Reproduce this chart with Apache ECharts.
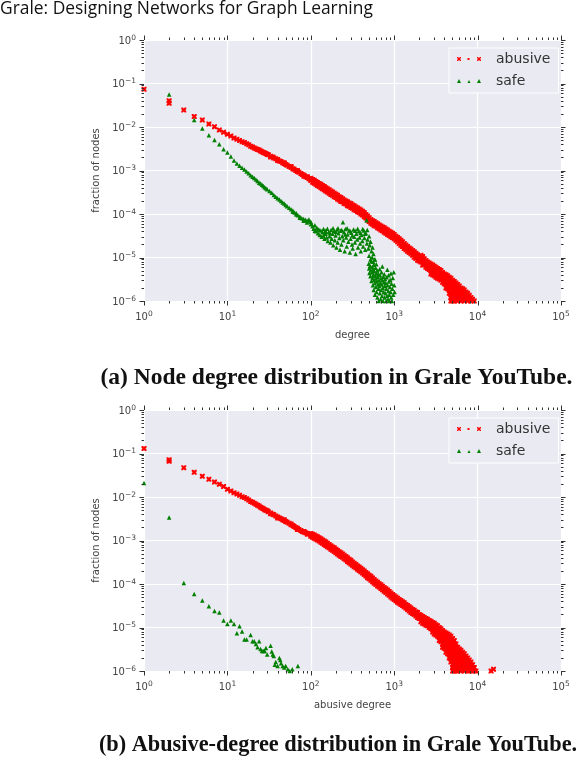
<!DOCTYPE html>
<html><head><meta charset="utf-8">
<script src="https://cdn.jsdelivr.net/npm/echarts@6/dist/echarts.min.js"></script>
<style>html,body{margin:0;padding:0;background:#fff}#c{width:578px;height:760px}</style>
</head><body><div id="c"></div>
<script>
// ---------- text ----------
const headerText = 'Grale: Designing Networks for Graph Learning';
const captions = ['(a) Node degree distribution in Grale YouTube.', '(b) Abusive-degree distribution in Grale YouTube.'];
const seriesNames = ['abusive', 'safe'];
const xAxisNames = ['degree', 'abusive degree'];
const yAxisName = 'fraction of nodes';

// ---------- axis ticks (powers of ten) ----------
const xTickExps = [0, 1, 2, 3, 4, 5];
const yTickExps = [-6, -5, -4, -3, -2, -1, 0];
const minorMultipliers = [2, 3, 4, 5, 6, 7, 8, 9];

// ---------- data rows: [degree, fraction, fraction, ...] ----------
// (a) node degree, abusive nodes
const degreeAbusive = [
 [1,0.074],[2,0.040,0.035],[3,0.0245],[4,0.0174],[5,0.0145],[6,0.0117],[7,0.0102],[8,0.0085],[9,0.0076],[10,0.0068],
 [11,0.0062],[12,0.0056],[13,0.0052],[14,0.0049],[15,0.0046],[16,0.0044],[17,0.0041],[18,0.0039],[19,0.0036],[20,0.00347],
 [21,0.0033],[22,0.00316],[23,0.00305],[24,0.00295],[25,0.0028],[26,0.00269],[27,0.0026],[28,0.00251],[29,0.00245],
 [30,0.00234],[31,0.0023],[33,0.00214,0.00205],[35,0.00205],[36,0.00195],[38,0.00186],[40,0.00178,0.0017],[42,0.00166],
 [44,0.00162],[46,0.00151],[48,0.00145,0.0015],[50,0.00138],[52,0.00132],[55,0.00124],[58,0.00117,0.00124],[61,0.0011],
 [63,0.00107],[66,0.001],[69,0.00095,0.001],[72,0.00091],[76,0.00085],[79,0.00081],[83,0.00078,0.00074],[87,0.00072],
 [91,0.00069,0.00072],[95,0.00065],[100,0.00066,0.00062,0.00059],
 [105,0.00062,0.00054],[110,0.0006,0.00055,0.00051],[115,0.00056,0.00048],[120,0.00053,0.00049,0.00045],[126,0.0005,0.00043],
 [132,0.00048,0.00044,0.0004],[138,0.00045,0.00038],[145,0.00043,0.00039,0.00036],[151,0.0004,0.00034],
 [158,0.00038,0.00035,0.00032],[166,0.00036,0.0003],[174,0.00034,0.00031,0.00028],[182,0.00032,0.00027],
 [191,0.0003,0.000275,0.00025],[200,0.000285,0.00024],[209,0.00027,0.000245,0.00022],[219,0.00025,0.00021],
 [229,0.00024,0.000216,0.000195],[240,0.000225,0.00019],[251,0.00021,0.000192,0.000175],[263,0.0002,0.00017],
 [275,0.00019,0.000172,0.000155],[288,0.00018,0.00015],[302,0.000175,0.000158,0.000142],[316,0.000162,0.000135],
 [331,0.000155,0.000139,0.000125],[347,0.000145,0.00012],[363,0.000138,0.000124,0.000112],[380,0.00013,0.000108],
 [398,0.000124,0.000111,0.0001],[417,0.000115,0.000095],[437,0.000108,0.000097,0.000087],[457,0.000098,0.000081],
 [479,0.00009,0.000081,0.000073],[501,0.000082,0.000067],[525,0.000075,0.000068,0.000061],[550,0.00007,0.000058],
 [575,0.000067,0.00006,0.000054],[603,0.000063,0.000052],[631,0.00006,0.000054,0.000048],[661,0.000056,0.000046],
 [692,0.000053,0.000048,0.000043],[724,0.00005,0.000041],[759,0.000048,0.000043,0.000038],[794,0.000045,0.000036],
 [832,0.000043,0.000038,0.000034],[871,0.00004,0.000032],[912,0.000038,0.000034,0.00003],[955,0.000036,0.000029],
 [1000,0.000034,0.00003,0.000027],[1047,0.000031,0.000025],[1096,0.000029,0.000026,0.000023],[1148,0.000027,0.000021],
 [1202,0.000025,0.000022,0.000019],[1259,0.000023,0.000018],[1318,0.000021,0.000018,0.000016],[1380,0.0000195,0.000015],
 [1445,0.000018,0.000016,0.000014],[1514,0.0000165,0.000013],[1585,0.0000157,0.000014,0.0000122],
 [1660,0.0000145,0.0000112],[1738,0.0000135,0.000012,0.0000102],[1820,0.0000125,0.0000095],
 [1905,0.0000115,0.00001,0.0000087],[1995,0.0000105,0.0000083],
 [2089,1.12e-5,9.4e-6,7.9e-6],[2190,1.05e-5,9.4e-6,7.9e-6,6.7e-6],[2291,9.4e-6,7.9e-6,6.7e-6],
 [2400,8.5e-6,7.1e-6,6e-6],[2512,7.9e-6,6.7e-6,5.6e-6],[2630,7.5e-6,6.3e-6,5.3e-6],
 [2754,7.1e-6,6e-6,5e-6,4.2e-6],[2890,6.7e-6,5.6e-6,4.7e-6,4e-6],[3020,6.3e-6,5.3e-6,4.5e-6,3.8e-6],
 [3160,6e-6,5e-6,4.2e-6,3.5e-6],[3311,5.6e-6,4.7e-6,4e-6,3.35e-6],[3470,5.3e-6,4.5e-6,3.8e-6,3.2e-6],
 [3631,5e-6,4.2e-6,3.5e-6,3e-6],[3800,4.5e-6,3.8e-6,3.2e-6,2.7e-6],[3981,4.2e-6,3.5e-6,3e-6,2.5e-6],
 [4170,4e-6,3.35e-6,2.8e-6,2.4e-6,2e-6],[4365,3.8e-6,3.2e-6,2.7e-6,2.2e-6,1.9e-6],
 [4570,3.5e-6,3e-6,2.5e-6,2.1e-6,1.8e-6,1.5e-6],[4786,3.35e-6,2.8e-6,2.4e-6,2e-6,1.7e-6,1.4e-6,1.2e-6,1e-6],
 [5010,3e-6,2.5e-6,2.1e-6,1.8e-6,1.5e-6,1.25e-6,1e-6],[5248,2.8e-6,2.4e-6,2e-6,1.7e-6,1.4e-6,1.2e-6,1e-6],
 [5500,2.6e-6,2.2e-6,1.85e-6,1.55e-6,1.3e-6,1.1e-6],[5754,2.4e-6,2e-6,1.7e-6,1.4e-6,1.2e-6,1e-6],
 [6030,2.2e-6,1.85e-6,1.55e-6,1.3e-6,1.1e-6],[6310,2e-6,1.7e-6,1.4e-6,1.2e-6,1e-6],
 [6610,1.9e-6,1.6e-6,1.35e-6,1.1e-6],[6918,1.8e-6,1.5e-6,1.25e-6,1e-6],[7240,1.6e-6,1.35e-6,1.1e-6],
 [7586,1.5e-6,1.25e-6,1e-6],[7940,1.35e-6,1.1e-6],[8318,1.2e-6,1e-6],[8700,1.1e-6],[9120,1e-6]
];
// (a) node degree, safe nodes
const degreeSafe = [
 [2,0.056],[4,0.0145],[5,0.0092],[6,0.0065],[7,0.005],[8,0.004],[9,0.0031],[10,0.0026],[11,0.0021],[12,0.0017],
 [13,0.00145],[14,0.00129],[15,0.00115],[16,0.00105],[17,0.00095],[18,0.00087],[19,0.00078],[20,0.00072],[21,0.00067],
 [22,0.00062],[23,0.00057],[24,0.00052],[25,0.0005],[26,0.00047],[27,0.00044],[28,0.00041],[29,0.00039],[30,0.00037],
 [32,0.00034],[34,0.00031],[36,0.000275],[38,0.00025],[40,0.00023],[42,0.000215],[44,0.0002],[46,0.000185],[48,0.000174],
 [50,0.00016],[52,0.000151],[55,0.00014],[58,0.000129],[61,0.00012,0.000112],[64,0.000108],[67,0.000098,0.000104],
 [70,0.000093],[74,0.000088,0.000082],[78,0.00008],[82,0.000077,0.00007],[86,0.000074],[90,0.000071,0.000064],
 [95,0.000068,0.000075],[100,0.000066,0.000058],
 [102,0.00006],[105,0.000052],[108,0.000046],[112,0.000055,0.000041],[115,0.00004],[118,0.000048],[122,0.000036,0.000044],
 [125,0.000044],[128,0.000033],[132,0.000042],[135,0.00003],[138,0.000038],
 [142,0.000045,0.000032],[146,0.000027],[148,0.000039],[150,0.000041,0.000035],[155,0.000029],[158,0.000046],[160,0.000024],
 [164,0.000038],[168,0.000031],[170,0.000036],[172,0.000022],[175,0.000043],[178,0.000027],[182,0.000035],[185,0.000047],
 [186,0.000019],[190,0.00004],[194,0.000025],[198,0.000032],[200,0.000039],[203,0.000017],[207,0.000044],[210,0.000022],
 [212,0.000047],[215,0.000036],[220,0.000028],[224,0.000015],[228,0.000041],[233,0.00002],[235,0.000043],[238,0.000031],
 [243,0.000065],[245,0.000025],[250,0.000038],[255,0.000014],[258,0.000034],[260,0.000045],[265,0.000029],[270,0.000018],
 [272,0.000047],[276,0.000034],[282,0.000023],[288,0.000042],[294,0.000013],[298,0.00004],[300,0.000027],[306,0.000037],
 [312,0.00002],[315,0.000032],[318,0.000016],[325,0.000044],[332,0.00003],[338,0.000022],[340,0.000041],[345,0.000012],
 [352,0.000035],[360,0.000026],[365,0.000046],[368,0.000017],[375,0.00004],[383,0.000029],[390,0.000021],[395,0.000037],
 [398,0.000014],[406,0.000033],[415,0.000024],[420,0.000045],[424,0.000018],[432,0.000042],[440,0.000028],[445,0.000035],
 [450,0.000015],[458,0.000036],[466,0.000072],[470,0.000021],[475,0.000043],[480,0.000026],[490,0.000016],
 [500,0.000031,0.000011],[510,0.000019],[520,0.000023,0.000009],[535,0.000014],[545,0.00001],[550,0.000017],[560,0.000008],
 [565,0.000012],[580,0.000009],[590,0.000009],[610,0.000007],
 [495,7.2e-6],[500,5.6e-6],[505,4.4e-6],[512,6.4e-6],[518,3.7e-6],[525,5.1e-6],[530,8.1e-6],[534,2.9e-6],[540,4.6e-6],
 [545,6.1e-6],[550,3.4e-6],[555,2.3e-6],[558,5.3e-6],[562,4.0e-6],[568,1.8e-6],[570,6.8e-6],[575,3.1e-6],[580,4.8e-6],
 [584,2.6e-6],[588,1.4e-6],[592,3.8e-6],[598,5.8e-6],[602,2.1e-6],[606,3.3e-6],[610,4.4e-6],[615,1.6e-6],[620,2.8e-6],
 [625,5.0e-6],[630,1.2e-6],[634,3.6e-6],[638,2.4e-6],[644,4.2e-6],[648,1.9e-6],[652,1.0e-6],[656,3.0e-6],[662,2.2e-6],
 [668,5.4e-6],[672,1.5e-6],[676,3.9e-6],[682,2.6e-6],[688,1.1e-6],[692,3.3e-6],[698,1.8e-6],[704,4.6e-6],[710,2.4e-6],
 [715,1.3e-6],[720,6.2e-6],[725,3.0e-6],[730,2.0e-6],[736,1.0e-6],[742,3.6e-6],[748,1.6e-6],[754,2.7e-6],[760,4.1e-6],
 [766,1.2e-6],[772,2.2e-6],[778,3.2e-6],[785,1.5e-6],[792,2.6e-6],[800,1.0e-6],[806,1.9e-6],[812,3.5e-6],[820,1.3e-6],
 [828,5.2e-6],[834,2.3e-6],[842,1.1e-6],[850,1.7e-6],[856,3.9e-6],[864,2.8e-6],[872,1.4e-6],[880,1.0e-6],[888,2.1e-6],
 [896,3.1e-6],[905,1.6e-6],[912,4.3e-6],[920,1.2e-6],[930,2.5e-6],[940,1.0e-6],[950,1.9e-6],[962,3.4e-6],[975,1.4e-6],
 [988,4.6e-6],[1000,2.3e-6],[1010,1.6e-6]
];
// (b) abusive degree, abusive nodes
const abusiveDegreeAbusive = [
 [1,0.13],[2,0.072,0.066],[3,0.047],[4,0.037],[5,0.030],[6,0.0256],[7,0.022],[8,0.0196],[9,0.0175],[10,0.015],
 [11,0.0138],[12,0.0126],[13,0.0117],[14,0.011],[15,0.0102],[16,0.0098],[17,0.0091],[18,0.0085],[19,0.0079],[20,0.0076],
 [21,0.0072],[22,0.0068],[23,0.0065],[24,0.0062],[25,0.0058],[26,0.0056],[27,0.0054],[28,0.0051],[29,0.00495],[30,0.0048],
 [31,0.0046],[33,0.0043,0.0041],[35,0.004],[36,0.0039],[38,0.00365],[40,0.00347,0.0033],[42,0.0033],[44,0.00316],[46,0.003],
 [48,0.00288,0.003],[50,0.00275],[52,0.00263],[55,0.0025],[58,0.00229,0.0024],[61,0.0022],[63,0.00209],[66,0.002],
 [69,0.0019,0.0018],[72,0.0018],[76,0.0017],[79,0.00162],[83,0.00155,0.0016],[87,0.0015],[91,0.00145,0.0014],[95,0.00141],
 [100,0.00145,0.00135,0.00125],
 [105,0.00139,0.00119],[110,0.00133,0.00123,0.00113],[115,0.00127,0.00108],[120,0.00122,0.00112,0.00103],
 [126,0.00115,0.00097],[132,0.0011,0.001,0.00091],[138,0.00103,0.00086],[145,0.00098,0.00089,0.00081],
 [151,0.00092,0.00077],[158,0.00087,0.00079,0.00072],[166,0.00081,0.00068],[174,0.00076,0.00069,0.00063],
 [182,0.00071,0.0006],[191,0.00068,0.00062,0.00056],[200,0.00063,0.00052],[209,0.00059,0.00054,0.00049],
 [219,0.00055,0.00046],[229,0.00052,0.00047,0.00043],[240,0.00049,0.00041],[251,0.00046,0.00042,0.00038],
 [263,0.00043,0.00036],[275,0.0004,0.00036,0.00033],[288,0.00037,0.00031],[302,0.00035,0.00032,0.00029],
 [316,0.00032,0.00027],[331,0.0003,0.000275,0.00025],[347,0.00028,0.000235],[363,0.00026,0.000238,0.000218],
 [380,0.000245,0.000205],[398,0.00023,0.00021,0.00019],[417,0.000212,0.000178],[437,0.0002,0.000182,0.000165],
 [457,0.000184,0.000153],[479,0.000172,0.000155,0.00014],[501,0.000158,0.000132],[525,0.00015,0.000135,0.000122],
 [550,0.000137,0.000113],[575,0.000127,0.000115,0.000104],[603,0.000117,0.000097],[631,0.00011,0.0001,0.00009],
 [661,0.000102,0.000085],[692,0.000096,0.000087,0.000079],[724,0.000089,0.000074],[759,0.000083,0.000075,0.000068],
 [794,0.000078,0.000064],[832,0.000073,0.000066,0.000059],[871,0.000067,0.000055],[912,0.000062,0.000056,0.00005],
 [955,0.000057,0.000047],[1000,0.000054,0.000049,0.000044],[1047,0.00005,0.000041],[1096,0.000047,0.000042,0.000038],
 [1148,0.000044,0.000036],[1202,0.000042,0.000038,0.000034],[1259,0.000039,0.000032],[1318,0.000037,0.000033,0.00003],
 [1380,0.000034,0.000028],[1445,0.000032,0.000029,0.000026],[1514,0.00003,0.000024],[1585,0.000028,0.000025,0.000022],
 [1660,0.000026,0.000021],[1738,0.000025,0.000022,0.00002],[1820,0.000023,0.0000185],[1905,0.000022,0.000019,0.000017],
 [1995,0.00002,0.000016],
 [2089,1.9e-5,1.6e-5,1.35e-5],[2190,1.8e-5,1.5e-5,1.25e-5],[2291,1.7e-5,1.45e-5,1.2e-5],[2400,1.6e-5,1.35e-5,1.12e-5],
 [2512,1.55e-5,1.3e-5,1.1e-5],[2630,1.45e-5,1.2e-5,1e-5],[2754,1.4e-5,1.15e-5,9.4e-6],[2890,1.3e-5,1.1e-5,9e-6,7.9e-6],
 [3020,1.25e-5,1.05e-5,8.5e-6,7.1e-6],[3160,1.15e-5,9.7e-6,8e-6,6.7e-6],[3311,1.1e-5,9e-6,7.5e-6,6.3e-6],
 [3470,1e-5,8.5e-6,7.1e-6,6e-6,5e-6],[3631,9.4e-6,7.9e-6,6.7e-6,5.6e-6,4.7e-6],
 [3800,8.5e-6,7.1e-6,6e-6,5e-6,4.2e-6,3.5e-6],[3981,7.9e-6,6.7e-6,5.6e-6,4.7e-6,4e-6,3.35e-6],
 [4170,7.5e-6,6.3e-6,5.3e-6,4.5e-6,3.8e-6,3.2e-6,2.7e-6],[4365,7.1e-6,6e-6,5e-6,4.2e-6,3.5e-6,3e-6,2.5e-6],
 [4570,6.7e-6,5.6e-6,4.7e-6,4e-6,3.35e-6,2.8e-6,2.4e-6,2e-6],
 [4786,6.3e-6,5.3e-6,4.5e-6,3.8e-6,3.2e-6,2.7e-6,2.2e-6,1.9e-6,1.6e-6],
 [5010,5.6e-6,4.7e-6,4e-6,3.35e-6,2.8e-6,2.4e-6,2e-6,1.7e-6,1.4e-6,1.2e-6,1e-6],
 [5248,5e-6,4.2e-6,3.5e-6,3e-6,2.5e-6,2.1e-6,1.8e-6,1.5e-6,1.25e-6,1e-6],
 [5500,4.2e-6,3.5e-6,3e-6,2.5e-6,2.1e-6,1.8e-6,1.5e-6,1.25e-6,1e-6],
 [5754,3.5e-6,3e-6,2.5e-6,2.1e-6,1.8e-6,1.5e-6,1.25e-6,1e-6],
 [6030,3.2e-6,2.7e-6,2.2e-6,1.9e-6,1.6e-6,1.35e-6,1.1e-6],[6310,3e-6,2.5e-6,2.1e-6,1.8e-6,1.5e-6,1.25e-6,1e-6],
 [6610,2.7e-6,2.2e-6,1.9e-6,1.6e-6,1.35e-6,1.1e-6],[6918,2.5e-6,2.1e-6,1.8e-6,1.5e-6,1.25e-6,1e-6],
 [7240,2.2e-6,1.9e-6,1.6e-6,1.35e-6,1.1e-6],[7586,2e-6,1.7e-6,1.4e-6,1.2e-6,1e-6],[7940,1.8e-6,1.5e-6,1.25e-6,1e-6],
 [8318,1.6e-6,1.35e-6,1.1e-6],[8700,1.4e-6,1.2e-6,1e-6],[9120,1.2e-6,1e-6],[9550,1e-6],[14500,1e-6],[15500,1.1e-6]
];
// (b) abusive degree, safe nodes
const abusiveDegreeSafe = [
 [1,0.021],[2,0.0034],[3,0.000105],[4,0.000059],[5,0.000042],[6,0.000031],[7,0.000024],[8,0.000022],[9,0.0000144],
 [10,0.000012],[11,0.0000144],[12,0.000012],[13,0.0000074],[14,0.0000107],[15,0.0000081],[16,0.0000053],[17,0.0000053],
 [19,0.0000067],[20,0.0000048],[21,0.0000048],[22,0.0000042],[23,0.0000035],[24,0.0000048],[25,0.0000032],[26,0.0000029],
 [27,0.0000029],[28,0.0000029],[29,0.0000034],[30,0.0000024],[33,0.0000038],[34,0.0000028],[35,0.0000024],[36,0.0000022],
 [37,0.0000014],[38,0.0000016],[40,0.0000013],[42,0.000002],[43,0.0000018],[44,0.0000015],[46,0.0000013],[48,0.0000012],
 [50,0.0000013],[53,0.0000011],[56,0.000001],[60,0.0000011],[70,0.0000013]
];

// ---------- build ----------
function expand(rows) {
  const out = [];
  rows.forEach(r => { for (let i = 1; i < r.length; i++) out.push([r[0], r[i]]); });
  return out;
}
function tickData() {
  const d = [];
  xTickExps.forEach(e => {
    d.push([Math.pow(10, e), 1e-3, 0]);
    if (e < xTickExps[xTickExps.length - 1]) minorMultipliers.forEach(m => d.push([m * Math.pow(10, e), 1e-3, 1]));
  });
  yTickExps.forEach(e => {
    d.push([10, Math.pow(10, e), 2]);
    if (e < yTickExps[yTickExps.length - 1]) minorMultipliers.forEach(m => d.push([10, m * Math.pow(10, e), 3]));
  });
  return d;
}
function renderTicks(params, api) {
  const cs = params.coordSys;
  const k = api.value(2);
  const len = (k === 0 || k === 2) ? 4.5 : 2.5;
  const st = { stroke: '#333', lineWidth: 1 };
  if (k < 2) {
    const x = Math.round(api.coord([api.value(0), 1e-3])[0]) + 0.5;
    const top = cs.y, bot = cs.y + cs.height;
    return { type: 'group', children: [
      { type: 'line', shape: { x1: x, y1: bot, x2: x, y2: bot + len }, style: st },
      { type: 'line', shape: { x1: x, y1: top - len, x2: x, y2: top }, style: st }
    ]};
  } else {
    const y = Math.round(api.coord([10, api.value(1)])[1]) + 0.5;
    const l = cs.x, r = cs.x + cs.width;
    return { type: 'group', children: [
      { type: 'line', shape: { x1: l - len, y1: y, x2: l, y2: y }, style: st },
      { type: 'line', shape: { x1: r, y1: y, x2: r + len, y2: y }, style: st }
    ]};
  }
}
function powLabel(v) {
  const e = Math.round(Math.log10(v));
  return '{b|10}{s|' + (e < 0 ? '\u2212' + (-e) : e) + '}';
}
const FONT = 'DejaVu Sans';
const labelRich = {
  b: { fontFamily: FONT, fontSize: 10, color: '#444', lineHeight: 12, verticalAlign: 'bottom' },
  s: { fontFamily: FONT, fontSize: 7.5, color: '#444', lineHeight: 8, verticalAlign: 'top' }
};
const RED = '#ff0000', GREEN = '#008000';
const xSym = 'path://M0,0L1.6,0L2.5,1L3.4,0L5,0L5,1.6L4,2.5L5,3.4L5,5L3.4,5L2.5,4L1.6,5L0,5L0,3.4L1,2.5L0,1.6Z';
const xIcon = 'path://M0,0L1,0L2,1L3,0L4,0L4,1L3,2L4,3L4,4L3,4L2,3L1,4L0,4L0,3L1,2L0,1Z' +
  'M10.5,1L12.5,1L12.5,3L10.5,3Z' +
  'M20,0L21,0L22,1L23,0L24,0L24,1L23,2L24,3L24,4L23,4L22,3L21,4L20,4L20,3L21,2L20,1Z';
const triIcon = 'path://M2,0L4,4L0,4Z M12,1L13.5,4L10.5,4Z M22,0L24,4L20,4Z';

const gridTops = [40, 410];
const panelData = [[degreeAbusive, degreeSafe], [abusiveDegreeAbusive, abusiveDegreeSafe]];

const option = {
  backgroundColor: '#fff',
  animation: false,
  grid: gridTops.map(t => ({ left: 144, top: t, width: 417, height: 261, show: true, backgroundColor: '#EAEAF2', borderWidth: 0 })),
  xAxis: gridTops.map((t, i) => ({
    type: 'log', logBase: 10, min: 1, max: 100000, gridIndex: i, splitNumber: 5,
    axisLine: { show: false }, axisTick: { show: false },
    splitLine: { show: true, lineStyle: { color: '#fff', width: 1.2 } },
    axisLabel: { formatter: powLabel, rich: labelRich, margin: 9 },
    name: xAxisNames[i], nameLocation: 'middle', nameGap: 29,
    nameTextStyle: { fontFamily: FONT, fontSize: 10, color: '#444' }
  })),
  yAxis: gridTops.map((t, i) => ({
    type: 'log', logBase: 10, min: 1e-6, max: 1, gridIndex: i, splitNumber: 6,
    axisLine: { show: false }, axisTick: { show: false },
    splitLine: { show: true, lineStyle: { color: '#fff', width: 1.2 } },
    axisLabel: { formatter: powLabel, rich: labelRich, margin: 8 },
    name: yAxisName, nameLocation: 'middle', nameGap: 32,
    nameTextStyle: { fontFamily: FONT, fontSize: 10, color: '#444' }
  })),
  legend: gridTops.map(t => ({
    orient: 'vertical', left: 449, top: t + 8,
    data: [{ name: seriesNames[0], icon: xIcon }, { name: seriesNames[1], icon: triIcon }],
    itemWidth: 24, itemHeight: 4, itemGap: 8, padding: [4, 8, 5, 8],
    backgroundColor: '#EAEAF2', borderColor: '#fff', borderWidth: 1, selectedMode: false,
    textStyle: { fontFamily: FONT, fontSize: 14, color: '#333', lineHeight: 14, padding: [0, 0, 0, 10] }
  })),
  series: [],
  graphic: [
    { type: 'text', left: 0, top: 1, style: { text: headerText, fontFamily: 'Open Sans', fontSize: 17.4, fill: '#111' } },
    { type: 'text', x: 336.5, y: 378, style: { text: captions[0], fontFamily: 'Liberation Serif', fontWeight: 'bold', fontSize: 23.5, fill: '#111', align: 'center', verticalAlign: 'middle' } },
    { type: 'text', x: 338, y: 745, style: { text: captions[1], fontFamily: 'Liberation Serif', fontWeight: 'bold', fontSize: 22.3, fill: '#111', align: 'center', verticalAlign: 'middle' } }
  ]
};
panelData.forEach((pair, i) => {
  option.series.push({
    type: 'scatter', name: seriesNames[0], xAxisIndex: i, yAxisIndex: i, data: expand(pair[0]),
    symbol: xSym, symbolSize: 5, itemStyle: { color: RED, opacity: 1 }, clip: true, silent: true
  });
  option.series.push({
    type: 'scatter', name: seriesNames[1], xAxisIndex: i, yAxisIndex: i, data: expand(pair[1]),
    symbol: 'triangle', symbolSize: 4.5, itemStyle: { color: GREEN, opacity: 1 }, clip: true, silent: true
  });
  option.series.push({
    type: 'custom', xAxisIndex: i, yAxisIndex: i, data: tickData(), renderItem: renderTicks, silent: true, clip: false, z: 5
  });
});
const chart = echarts.init(document.getElementById('c'), null, { renderer: 'canvas' });
chart.setOption(option);
</script></body></html>
